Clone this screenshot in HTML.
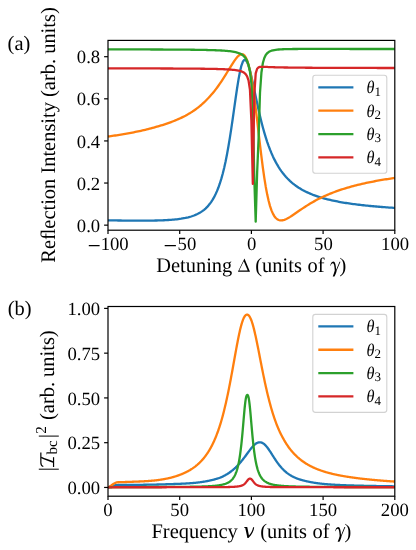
<!DOCTYPE html><html><head><meta charset="utf-8"><style>html,body{margin:0;padding:0;background:#fff}text{font-family:"Liberation Serif",serif;text-rendering:geometricPrecision}body{width:416px;height:550px;position:relative;overflow:hidden;font-family:"Liberation Serif",serif}</style></head><body><svg width="416" height="550" viewBox="0 0 416 550" style="position:absolute;left:0;top:0;will-change:transform">
<defs><clipPath id="ca"><rect x="108.00" y="40.40" width="286.80" height="189.80"/></clipPath><clipPath id="cb"><rect x="108.00" y="306.50" width="286.80" height="189.70"/></clipPath></defs>
<rect width="416" height="550" fill="#fff"/>
<g clip-path="url(#ca)" fill="none" stroke-width="2.30" stroke-linejoin="round">
<path d="M108.00,220.37 L109.43,220.39 L110.87,220.41 L112.30,220.42 L113.74,220.44 L115.17,220.46 L116.60,220.47 L118.04,220.49 L119.47,220.51 L120.91,220.52 L122.34,220.54 L123.77,220.55 L125.21,220.56 L126.64,220.58 L128.08,220.59 L129.51,220.60 L130.94,220.61 L132.38,220.62 L133.81,220.63 L135.25,220.63 L136.68,220.64 L138.11,220.64 L139.55,220.64 L140.98,220.64 L142.42,220.64 L143.85,220.64 L145.28,220.63 L146.72,220.63 L148.15,220.62 L149.59,220.60 L151.02,220.59 L152.45,220.57 L153.89,220.54 L155.32,220.52 L156.76,220.48 L158.19,220.45 L159.62,220.41 L161.06,220.36 L162.49,220.31 L163.93,220.25 L165.36,220.18 L166.79,220.11 L168.23,220.02 L169.66,219.93 L171.10,219.83 L172.53,219.72 L173.96,219.59 L175.40,219.45 L176.83,219.29 L178.27,219.12 L179.70,218.93 L181.13,218.73 L182.57,218.49 L184.00,218.24 L185.44,217.96 L186.87,217.64 L188.30,217.30 L189.74,216.92 L191.17,216.49 L192.61,216.02 L194.04,215.50 L195.47,214.92 L196.91,214.28 L198.34,213.57 L199.78,212.77 L201.21,211.88 L202.64,210.89 L204.08,209.79 L205.51,208.55 L206.95,207.16 L208.38,205.60 L209.81,203.85 L211.25,201.88 L212.68,199.66 L214.12,197.16 L215.55,194.34 L216.98,191.15 L218.42,187.55 L219.85,183.49 L221.29,178.90 L222.72,173.74 L224.15,167.95 L225.59,161.47 L227.02,154.26 L228.46,146.32 L229.89,137.66 L231.32,128.35 L232.76,118.53 L234.19,108.40 L235.63,98.26 L237.06,88.51 L238.49,79.56 L239.93,71.88 L241.36,65.85 L242.80,61.79 L244.23,59.83 L245.66,59.97 L247.10,62.01 L248.53,65.68 L249.97,70.63 L251.40,76.51 L252.83,82.97 L254.27,89.73 L255.70,96.57 L257.14,103.31 L258.57,109.83 L260.00,116.05 L261.44,121.93 L262.87,127.44 L264.31,132.58 L265.74,137.35 L267.17,141.78 L268.61,145.87 L270.04,149.66 L271.48,153.16 L272.91,156.39 L274.34,159.38 L275.78,162.15 L277.21,164.71 L278.65,167.09 L280.08,169.30 L281.51,171.35 L282.95,173.26 L284.38,175.04 L285.82,176.70 L287.25,178.26 L288.68,179.71 L290.12,181.07 L291.55,182.35 L292.99,183.55 L294.42,184.68 L295.85,185.74 L297.29,186.74 L298.72,187.69 L300.16,188.58 L301.59,189.43 L303.02,190.23 L304.46,190.99 L305.89,191.71 L307.33,192.40 L308.76,193.05 L310.19,193.67 L311.63,194.26 L313.06,194.83 L314.50,195.36 L315.93,195.88 L317.36,196.37 L318.80,196.84 L320.23,197.29 L321.67,197.72 L323.10,198.14 L324.53,198.53 L325.97,198.91 L327.40,199.28 L328.84,199.63 L330.27,199.97 L331.70,200.30 L333.14,200.61 L334.57,200.91 L336.01,201.21 L337.44,201.49 L338.87,201.76 L340.31,202.02 L341.74,202.28 L343.18,202.52 L344.61,202.76 L346.04,202.99 L347.48,203.21 L348.91,203.43 L350.35,203.64 L351.78,203.84 L353.21,204.03 L354.65,204.22 L356.08,204.41 L357.52,204.59 L358.95,204.76 L360.38,204.93 L361.82,205.10 L363.25,205.26 L364.69,205.41 L366.12,205.56 L367.55,205.71 L368.99,205.85 L370.42,205.99 L371.86,206.13 L373.29,206.26 L374.72,206.39 L376.16,206.52 L377.59,206.64 L379.03,206.76 L380.46,206.88 L381.89,206.99 L383.33,207.10 L384.76,207.21 L386.20,207.32 L387.63,207.42 L389.06,207.53 L390.50,207.62 L391.93,207.72 L393.37,207.82 L394.80,207.91" stroke="#1f77b4"/>
<path d="M108.00,136.51 L109.43,136.31 L110.87,136.11 L112.30,135.91 L113.74,135.70 L115.17,135.49 L116.60,135.27 L118.04,135.05 L119.47,134.82 L120.91,134.59 L122.34,134.35 L123.77,134.11 L125.21,133.87 L126.64,133.62 L128.08,133.36 L129.51,133.09 L130.94,132.83 L132.38,132.55 L133.81,132.27 L135.25,131.98 L136.68,131.68 L138.11,131.38 L139.55,131.07 L140.98,130.76 L142.42,130.43 L143.85,130.10 L145.28,129.76 L146.72,129.41 L148.15,129.05 L149.59,128.68 L151.02,128.30 L152.45,127.91 L153.89,127.52 L155.32,127.11 L156.76,126.70 L158.19,126.30 L159.62,125.89 L161.06,125.46 L162.49,125.03 L163.93,124.57 L165.36,124.11 L166.79,123.63 L168.23,123.13 L169.66,122.62 L171.10,122.09 L172.53,121.54 L173.96,120.98 L175.40,120.39 L176.83,119.79 L178.27,119.16 L179.70,118.51 L181.13,117.84 L182.57,117.15 L184.00,116.43 L185.44,115.69 L186.87,114.91 L188.30,114.11 L189.74,113.26 L191.17,112.35 L192.61,111.42 L194.04,110.44 L195.47,109.44 L196.91,108.39 L198.34,107.30 L199.78,106.17 L201.21,104.99 L202.64,103.70 L204.08,102.36 L205.51,100.97 L206.95,99.53 L208.38,98.04 L209.81,96.48 L211.25,94.86 L212.68,93.19 L214.12,91.44 L215.55,89.60 L216.98,87.69 L218.42,85.71 L219.85,83.66 L221.29,81.55 L222.72,79.37 L224.15,77.13 L225.59,74.84 L227.02,72.51 L228.46,70.19 L229.89,67.87 L231.32,65.55 L232.76,63.29 L234.19,61.12 L235.63,59.09 L237.06,57.28 L238.49,55.78 L239.93,54.72 L241.36,54.18 L242.80,54.31 L244.23,55.26 L245.66,57.22 L247.10,60.33 L248.53,64.77 L249.97,70.65 L251.40,78.01 L252.83,86.84 L254.27,96.99 L255.70,108.23 L257.14,120.22 L258.57,132.57 L260.00,144.87 L261.44,156.71 L262.87,167.77 L264.31,177.82 L265.74,186.69 L267.17,194.35 L268.61,200.79 L270.04,206.08 L271.48,210.33 L272.91,213.66 L274.34,216.17 L275.78,218.00 L277.21,219.25 L278.65,220.01 L280.08,220.39 L281.51,220.44 L282.95,220.24 L284.38,219.82 L285.82,219.25 L287.25,218.55 L288.68,217.76 L290.12,216.89 L291.55,215.97 L292.99,215.02 L294.42,214.04 L295.85,213.05 L297.29,212.05 L298.72,211.06 L300.16,210.07 L301.59,209.09 L303.02,208.13 L304.46,207.18 L305.89,206.26 L307.33,205.35 L308.76,204.46 L310.19,203.60 L311.63,202.75 L313.06,201.93 L314.50,201.13 L315.93,200.35 L317.36,199.59 L318.80,198.85 L320.23,198.13 L321.67,197.43 L323.10,196.76 L324.53,196.10 L325.97,195.45 L327.40,194.83 L328.84,194.22 L330.27,193.64 L331.70,193.06 L333.14,192.50 L334.57,191.96 L336.01,191.43 L337.44,190.92 L338.87,190.42 L340.31,189.93 L341.74,189.46 L343.18,189.00 L344.61,188.55 L346.04,188.11 L347.48,187.68 L348.91,187.27 L350.35,186.86 L351.78,186.46 L353.21,186.08 L354.65,185.70 L356.08,185.33 L357.52,184.97 L358.95,184.62 L360.38,184.28 L361.82,183.95 L363.25,183.62 L364.69,183.30 L366.12,182.99 L367.55,182.68 L368.99,182.38 L370.42,182.09 L371.86,181.81 L373.29,181.53 L374.72,181.25 L376.16,180.98 L377.59,180.72 L379.03,180.47 L380.46,180.21 L381.89,179.97 L383.33,179.73 L384.76,179.49 L386.20,179.26 L387.63,179.03 L389.06,178.81 L390.50,178.59 L391.93,178.37 L393.37,178.16 L394.80,177.96" stroke="#ff7f0e"/>
<path d="M108.00,49.37 L109.43,49.37 L110.87,49.38 L112.30,49.38 L113.74,49.38 L115.17,49.38 L116.60,49.39 L118.04,49.39 L119.47,49.39 L120.91,49.39 L122.34,49.40 L123.77,49.40 L125.21,49.40 L126.64,49.41 L128.08,49.41 L129.51,49.41 L130.94,49.42 L132.38,49.42 L133.81,49.42 L135.25,49.43 L136.68,49.43 L138.11,49.44 L139.55,49.44 L140.98,49.44 L142.42,49.45 L143.85,49.45 L145.28,49.46 L146.72,49.46 L148.15,49.47 L149.59,49.47 L151.02,49.48 L152.45,49.48 L153.89,49.49 L155.32,49.49 L156.76,49.50 L158.19,49.50 L159.62,49.51 L161.06,49.52 L162.49,49.52 L163.93,49.53 L165.36,49.54 L166.79,49.54 L168.23,49.55 L169.66,49.56 L171.10,49.57 L172.53,49.58 L173.96,49.59 L175.40,49.60 L176.83,49.61 L178.27,49.62 L179.70,49.63 L181.13,49.64 L182.57,49.65 L184.00,49.66 L185.44,49.68 L186.87,49.69 L188.30,49.71 L189.74,49.72 L191.17,49.74 L192.61,49.75 L194.04,49.77 L195.47,49.79 L196.91,49.81 L198.34,49.83 L199.78,49.86 L201.21,49.88 L202.64,49.91 L204.08,49.93 L205.51,49.96 L206.95,50.00 L208.38,50.03 L209.81,50.07 L211.25,50.11 L212.68,50.15 L214.12,50.20 L215.55,50.25 L216.98,50.31 L218.42,50.37 L219.85,50.44 L221.29,50.52 L222.72,50.60 L224.15,50.70 L225.59,50.81 L227.02,50.93 L228.46,51.07 L229.89,51.23 L231.32,51.41 L232.76,51.63 L234.19,51.89 L235.63,52.19 L237.06,52.56 L238.49,53.02 L239.93,53.59 L241.36,54.31 L242.80,55.26 L244.23,56.54 L245.66,58.32 L247.10,60.92 L248.53,64.93 L249.97,71.59 L251.40,83.71 L252.83,108.32 L254.27,177.14 L255.70,221.67 L257.14,172.51 L258.57,139.15 L260.00,92.71 L261.44,72.49 L262.87,62.99 L264.31,57.99 L265.74,55.05 L267.17,53.25 L268.61,52.08 L270.04,51.29 L271.48,50.73 L272.91,50.33 L274.34,50.03 L275.78,49.81 L277.21,49.63 L278.65,49.50 L280.08,49.39 L281.51,49.31 L282.95,49.24 L284.38,49.18 L285.82,49.14 L287.25,49.10 L288.68,49.07 L290.12,49.05 L291.55,49.03 L292.99,49.01 L294.42,49.00 L295.85,48.99 L297.29,48.98 L298.72,48.97 L300.16,48.96 L301.59,48.96 L303.02,48.95 L304.46,48.95 L305.89,48.95 L307.33,48.95 L308.76,48.94 L310.19,48.94 L311.63,48.94 L313.06,48.94 L314.50,48.94 L315.93,48.94 L317.36,48.94 L318.80,48.94 L320.23,48.94 L321.67,48.94 L323.10,48.95 L324.53,48.95 L325.97,48.95 L327.40,48.95 L328.84,48.95 L330.27,48.95 L331.70,48.95 L333.14,48.96 L334.57,48.96 L336.01,48.96 L337.44,48.96 L338.87,48.96 L340.31,48.96 L341.74,48.97 L343.18,48.97 L344.61,48.97 L346.04,48.97 L347.48,48.97 L348.91,48.97 L350.35,48.98 L351.78,48.98 L353.21,48.98 L354.65,48.98 L356.08,48.98 L357.52,48.98 L358.95,48.98 L360.38,48.99 L361.82,48.99 L363.25,48.99 L364.69,48.99 L366.12,48.99 L367.55,48.99 L368.99,48.99 L370.42,49.00 L371.86,49.00 L373.29,49.00 L374.72,49.00 L376.16,49.00 L377.59,49.00 L379.03,49.00 L380.46,49.01 L381.89,49.01 L383.33,49.01 L384.76,49.01 L386.20,49.01 L387.63,49.01 L389.06,49.01 L390.50,49.01 L391.93,49.02 L393.37,49.02 L394.80,49.02" stroke="#2ca02c"/>
<path d="M108.00,68.36 L109.43,68.37 L110.87,68.37 L112.30,68.37 L113.74,68.37 L115.17,68.37 L116.60,68.38 L118.04,68.38 L119.47,68.38 L120.91,68.38 L122.34,68.39 L123.77,68.39 L125.21,68.39 L126.64,68.39 L128.08,68.40 L129.51,68.40 L130.94,68.40 L132.38,68.40 L133.81,68.41 L135.25,68.41 L136.68,68.41 L138.11,68.41 L139.55,68.42 L140.98,68.42 L142.42,68.42 L143.85,68.43 L145.28,68.43 L146.72,68.43 L148.15,68.44 L149.59,68.44 L151.02,68.45 L152.45,68.45 L153.89,68.45 L155.32,68.46 L156.76,68.46 L158.19,68.47 L159.62,68.47 L161.06,68.48 L162.49,68.48 L163.93,68.49 L165.36,68.49 L166.79,68.50 L168.23,68.50 L169.66,68.51 L171.10,68.52 L172.53,68.52 L173.96,68.53 L175.40,68.54 L176.83,68.54 L178.27,68.55 L179.70,68.56 L181.13,68.57 L182.57,68.57 L184.00,68.58 L185.44,68.59 L186.87,68.60 L188.30,68.61 L189.74,68.62 L191.17,68.63 L192.61,68.65 L194.04,68.66 L195.47,68.67 L196.91,68.68 L198.34,68.70 L199.78,68.71 L201.21,68.73 L202.64,68.75 L204.08,68.77 L205.51,68.79 L206.95,68.81 L208.38,68.83 L209.81,68.85 L211.25,68.88 L212.68,68.91 L214.12,68.94 L215.55,68.97 L216.98,69.00 L218.42,69.04 L219.85,69.08 L221.29,69.13 L222.72,69.18 L224.15,69.24 L225.59,69.30 L227.02,69.38 L228.46,69.46 L229.89,69.55 L231.32,69.66 L232.76,69.79 L234.19,69.94 L235.63,70.11 L237.06,70.33 L238.49,70.60 L239.93,70.94 L241.36,71.38 L242.80,71.99 L244.23,72.85 L245.66,74.15 L247.10,76.31 L248.53,80.38 L249.97,89.90 L251.40,121.01 L252.83,183.94 L254.27,95.17 L255.70,73.35 L257.14,68.75 L258.57,67.42 L260.00,66.97 L261.44,66.84 L262.87,66.82 L264.31,66.86 L265.74,66.91 L267.17,66.97 L268.61,67.03 L270.04,67.08 L271.48,67.14 L272.91,67.19 L274.34,67.23 L275.78,67.28 L277.21,67.32 L278.65,67.35 L280.08,67.39 L281.51,67.42 L282.95,67.45 L284.38,67.48 L285.82,67.50 L287.25,67.52 L288.68,67.55 L290.12,67.57 L291.55,67.59 L292.99,67.60 L294.42,67.62 L295.85,67.64 L297.29,67.65 L298.72,67.67 L300.16,67.68 L301.59,67.69 L303.02,67.71 L304.46,67.72 L305.89,67.73 L307.33,67.74 L308.76,67.75 L310.19,67.76 L311.63,67.77 L313.06,67.78 L314.50,67.79 L315.93,67.79 L317.36,67.80 L318.80,67.81 L320.23,67.82 L321.67,67.82 L323.10,67.83 L324.53,67.84 L325.97,67.84 L327.40,67.85 L328.84,67.86 L330.27,67.86 L331.70,67.87 L333.14,67.87 L334.57,67.88 L336.01,67.88 L337.44,67.89 L338.87,67.89 L340.31,67.90 L341.74,67.90 L343.18,67.90 L344.61,67.91 L346.04,67.91 L347.48,67.92 L348.91,67.92 L350.35,67.92 L351.78,67.93 L353.21,67.93 L354.65,67.93 L356.08,67.94 L357.52,67.94 L358.95,67.94 L360.38,67.95 L361.82,67.95 L363.25,67.95 L364.69,67.95 L366.12,67.96 L367.55,67.96 L368.99,67.96 L370.42,67.96 L371.86,67.97 L373.29,67.97 L374.72,67.97 L376.16,67.97 L377.59,67.98 L379.03,67.98 L380.46,67.98 L381.89,67.98 L383.33,67.98 L384.76,67.99 L386.20,67.99 L387.63,67.99 L389.06,67.99 L390.50,67.99 L391.93,68.00 L393.37,68.00 L394.80,68.00" stroke="#d62728"/>
</g>
<g clip-path="url(#cb)" fill="none" stroke-width="2.30" stroke-linejoin="round">
<path d="M108.00,487.45 L108.36,487.33 L108.72,487.20 L109.08,487.08 L109.43,486.95 L109.79,486.83 L110.15,486.70 L110.51,486.58 L110.87,486.45 L111.23,486.33 L111.58,486.22 L111.94,486.10 L112.30,485.99 L112.66,485.87 L113.02,485.75 L113.38,485.63 L113.74,485.51 L114.09,485.45 L114.45,485.40 L114.81,485.34 L115.17,485.29 L115.53,485.23 L115.89,485.18 L116.25,485.12 L116.60,485.07 L116.96,485.05 L117.32,485.04 L117.68,485.03 L118.04,485.02 L118.40,485.01 L118.75,484.99 L119.11,484.98 L119.47,484.97 L119.83,484.97 L120.19,484.97 L120.55,484.97 L120.91,484.96 L121.26,484.96 L121.62,484.96 L121.98,484.96 L122.34,484.96 L122.70,484.96 L123.06,484.95 L123.42,484.95 L123.77,484.95 L124.13,484.95 L124.49,484.95 L124.85,484.95 L125.21,484.94 L125.57,484.94 L125.92,484.94 L126.28,484.94 L126.64,484.94 L127.00,484.93 L127.36,484.93 L127.72,484.93 L128.08,484.93 L128.43,484.92 L128.79,484.92 L129.15,484.92 L129.51,484.92 L129.87,484.91 L130.23,484.91 L130.59,484.91 L130.94,484.91 L131.30,484.90 L131.66,484.90 L132.02,484.90 L132.38,484.89 L132.74,484.89 L133.09,484.89 L133.45,484.89 L133.81,484.88 L134.17,484.88 L134.53,484.88 L134.89,484.87 L135.25,484.87 L135.60,484.87 L135.96,484.86 L136.32,484.86 L136.68,484.85 L137.04,484.85 L137.40,484.85 L137.76,484.84 L138.11,484.84 L138.47,484.84 L138.83,484.83 L139.19,484.83 L139.55,484.82 L139.91,484.82 L140.26,484.81 L140.62,484.81 L140.98,484.80 L141.34,484.80 L141.70,484.80 L142.06,484.79 L142.42,484.79 L142.77,484.78 L143.13,484.78 L143.49,484.77 L143.85,484.77 L144.21,484.76 L144.57,484.76 L144.93,484.75 L145.28,484.74 L145.64,484.74 L146.00,484.73 L146.36,484.73 L146.72,484.72 L147.08,484.72 L147.44,484.71 L147.79,484.70 L148.15,484.70 L148.51,484.69 L148.87,484.69 L149.23,484.68 L149.59,484.67 L149.94,484.67 L150.30,484.66 L150.66,484.65 L151.02,484.65 L151.38,484.64 L151.74,484.63 L152.10,484.63 L152.45,484.62 L152.81,484.61 L153.17,484.60 L153.53,484.60 L153.89,484.59 L154.25,484.58 L154.60,484.57 L154.96,484.57 L155.32,484.56 L155.68,484.55 L156.04,484.54 L156.40,484.53 L156.76,484.52 L157.11,484.52 L157.47,484.51 L157.83,484.50 L158.19,484.49 L158.55,484.48 L158.91,484.47 L159.27,484.46 L159.62,484.45 L159.98,484.44 L160.34,484.43 L160.70,484.42 L161.06,484.41 L161.42,484.40 L161.78,484.39 L162.13,484.38 L162.49,484.37 L162.85,484.36 L163.21,484.35 L163.57,484.34 L163.93,484.33 L164.28,484.32 L164.64,484.30 L165.00,484.29 L165.36,484.28 L165.72,484.27 L166.08,484.26 L166.44,484.24 L166.79,484.23 L167.15,484.22 L167.51,484.21 L167.87,484.19 L168.23,484.18 L168.59,484.17 L168.94,484.15 L169.30,484.14 L169.66,484.12 L170.02,484.11 L170.38,484.10 L170.74,484.09 L171.10,484.09 L171.45,484.08 L171.81,484.07 L172.17,484.06 L172.53,484.05 L172.89,484.04 L173.25,484.03 L173.61,484.02 L173.96,484.01 L174.32,484.00 L174.68,483.99 L175.04,483.98 L175.40,483.97 L175.76,483.95 L176.12,483.94 L176.47,483.93 L176.83,483.92 L177.19,483.91 L177.55,483.89 L177.91,483.88 L178.27,483.87 L178.62,483.85 L178.98,483.84 L179.34,483.82 L179.70,483.81 L180.06,483.79 L180.42,483.78 L180.78,483.76 L181.13,483.75 L181.49,483.73 L181.85,483.72 L182.21,483.70 L182.57,483.68 L182.93,483.66 L183.28,483.65 L183.64,483.63 L184.00,483.61 L184.36,483.59 L184.72,483.57 L185.08,483.55 L185.44,483.53 L185.79,483.51 L186.15,483.49 L186.51,483.47 L186.87,483.45 L187.23,483.43 L187.59,483.40 L187.95,483.38 L188.30,483.36 L188.66,483.34 L189.02,483.31 L189.38,483.29 L189.74,483.26 L190.10,483.24 L190.45,483.21 L190.81,483.18 L191.17,483.16 L191.53,483.13 L191.89,483.10 L192.25,483.07 L192.61,483.04 L192.96,483.01 L193.32,482.98 L193.68,482.95 L194.04,482.92 L194.40,482.89 L194.76,482.86 L195.12,482.82 L195.47,482.79 L195.83,482.76 L196.19,482.72 L196.55,482.68 L196.91,482.63 L197.27,482.59 L197.62,482.55 L197.98,482.50 L198.34,482.46 L198.70,482.41 L199.06,482.37 L199.42,482.32 L199.78,482.27 L200.13,482.23 L200.49,482.18 L200.85,482.13 L201.21,482.08 L201.57,482.02 L201.93,481.97 L202.29,481.92 L202.64,481.86 L203.00,481.81 L203.36,481.75 L203.72,481.69 L204.08,481.64 L204.44,481.58 L204.80,481.52 L205.15,481.46 L205.51,481.39 L205.87,481.33 L206.23,481.27 L206.59,481.20 L206.95,481.13 L207.30,481.07 L207.66,481.00 L208.02,480.93 L208.38,480.85 L208.74,480.78 L209.10,480.71 L209.46,480.63 L209.81,480.56 L210.17,480.48 L210.53,480.40 L210.89,480.32 L211.25,480.23 L211.61,480.15 L211.96,480.06 L212.32,479.98 L212.68,479.89 L213.04,479.80 L213.40,479.71 L213.76,479.61 L214.12,479.52 L214.47,479.42 L214.83,479.32 L215.19,479.22 L215.55,479.12 L215.91,479.01 L216.27,478.90 L216.63,478.80 L216.98,478.69 L217.34,478.57 L217.70,478.46 L218.06,478.34 L218.42,478.22 L218.78,478.10 L219.13,477.97 L219.49,477.85 L219.85,477.72 L220.21,477.59 L220.57,477.45 L220.93,477.31 L221.29,477.17 L221.64,477.03 L222.00,476.89 L222.36,476.71 L222.72,476.53 L223.08,476.35 L223.44,476.17 L223.80,475.98 L224.15,475.79 L224.51,475.60 L224.87,475.40 L225.23,475.20 L225.59,475.00 L225.95,474.79 L226.31,474.58 L226.66,474.37 L227.02,474.15 L227.38,473.93 L227.74,473.70 L228.10,473.47 L228.46,473.23 L228.81,473.00 L229.17,472.75 L229.53,472.51 L229.89,472.25 L230.25,472.00 L230.61,471.74 L230.97,471.47 L231.32,471.20 L231.68,470.92 L232.04,470.64 L232.40,470.36 L232.76,470.07 L233.12,469.77 L233.47,469.47 L233.83,469.16 L234.19,468.85 L234.55,468.53 L234.91,468.20 L235.27,467.87 L235.63,467.53 L235.98,467.18 L236.34,466.83 L236.70,466.47 L237.06,466.11 L237.42,465.74 L237.78,465.36 L238.14,464.98 L238.49,464.59 L238.85,464.20 L239.21,463.80 L239.57,463.40 L239.93,462.99 L240.29,462.57 L240.64,462.15 L241.00,461.72 L241.36,461.29 L241.72,460.85 L242.08,460.40 L242.44,459.95 L242.80,459.50 L243.15,459.04 L243.51,458.58 L243.87,458.11 L244.23,457.64 L244.59,457.17 L244.95,456.69 L245.31,456.21 L245.66,455.73 L246.02,455.25 L246.38,454.76 L246.74,454.28 L247.10,453.79 L247.46,453.29 L247.81,452.79 L248.17,452.30 L248.53,451.81 L248.89,451.32 L249.25,450.83 L249.61,450.35 L249.97,449.88 L250.32,449.41 L250.68,448.95 L251.04,448.49 L251.40,448.05 L251.76,447.62 L252.12,447.20 L252.48,446.79 L252.83,446.39 L253.19,446.01 L253.55,445.64 L253.91,445.29 L254.27,444.95 L254.63,444.63 L254.98,444.33 L255.34,444.05 L255.70,443.79 L256.06,443.54 L256.42,443.32 L256.78,443.12 L257.14,442.94 L257.49,442.78 L257.85,442.64 L258.21,442.53 L258.57,442.43 L258.93,442.36 L259.29,442.30 L259.65,442.28 L260.00,442.29 L260.36,442.33 L260.72,442.38 L261.08,442.46 L261.44,442.56 L261.80,442.69 L262.15,442.83 L262.51,443.00 L262.87,443.20 L263.23,443.42 L263.59,443.66 L263.95,443.93 L264.31,444.22 L264.66,444.54 L265.02,444.87 L265.38,445.23 L265.74,445.61 L266.10,446.00 L266.46,446.42 L266.82,446.86 L267.17,447.31 L267.53,447.77 L267.89,448.25 L268.25,448.75 L268.61,449.26 L268.97,449.77 L269.32,450.30 L269.68,450.84 L270.04,451.38 L270.40,451.93 L270.76,452.49 L271.12,453.05 L271.48,453.61 L271.83,454.18 L272.19,454.75 L272.55,455.31 L272.91,455.88 L273.27,456.44 L273.63,457.01 L273.99,457.57 L274.34,458.12 L274.70,458.67 L275.06,459.21 L275.42,459.75 L275.78,460.29 L276.14,460.81 L276.50,461.33 L276.85,461.84 L277.21,462.35 L277.57,462.85 L277.93,463.34 L278.29,463.82 L278.65,464.29 L279.00,464.76 L279.36,465.21 L279.72,465.66 L280.08,466.10 L280.44,466.53 L280.80,466.95 L281.16,467.37 L281.51,467.77 L281.87,468.17 L282.23,468.55 L282.59,468.93 L282.95,469.30 L283.31,469.66 L283.66,470.02 L284.02,470.36 L284.38,470.70 L284.74,471.03 L285.10,471.35 L285.46,471.66 L285.82,471.97 L286.17,472.27 L286.53,472.56 L286.89,472.85 L287.25,473.12 L287.61,473.39 L287.97,473.66 L288.33,473.91 L288.68,474.17 L289.04,474.41 L289.40,474.65 L289.76,474.88 L290.12,475.11 L290.48,475.33 L290.83,475.54 L291.19,475.75 L291.55,475.96 L291.91,476.15 L292.27,476.35 L292.63,476.54 L292.99,476.72 L293.34,476.90 L293.70,477.07 L294.06,477.24 L294.42,477.41 L294.78,477.57 L295.14,477.73 L295.50,477.88 L295.85,478.03 L296.21,478.18 L296.57,478.32 L296.93,478.46 L297.29,478.59 L297.65,478.73 L298.00,478.85 L298.36,478.98 L298.72,479.10 L299.08,479.22 L299.44,479.34 L299.80,479.45 L300.16,479.56 L300.51,479.67 L300.87,479.78 L301.23,479.88 L301.59,479.98 L301.95,480.08 L302.31,480.17 L302.67,480.27 L303.02,480.36 L303.38,480.45 L303.74,480.53 L304.10,480.62 L304.46,480.72 L304.82,480.81 L305.17,480.91 L305.53,481.00 L305.89,481.08 L306.25,481.17 L306.61,481.26 L306.97,481.34 L307.33,481.42 L307.68,481.50 L308.04,481.58 L308.40,481.66 L308.76,481.73 L309.12,481.81 L309.48,481.88 L309.84,481.95 L310.19,482.02 L310.55,482.09 L310.91,482.16 L311.27,482.23 L311.63,482.29 L311.99,482.36 L312.35,482.42 L312.70,482.48 L313.06,482.54 L313.42,482.60 L313.78,482.66 L314.14,482.72 L314.50,482.77 L314.85,482.83 L315.21,482.88 L315.57,482.94 L315.93,482.99 L316.29,483.04 L316.65,483.09 L317.01,483.14 L317.36,483.19 L317.72,483.24 L318.08,483.29 L318.44,483.34 L318.80,483.38 L319.16,483.43 L319.51,483.47 L319.87,483.52 L320.23,483.56 L320.59,483.60 L320.95,483.65 L321.31,483.69 L321.67,483.73 L322.02,483.77 L322.38,483.81 L322.74,483.85 L323.10,483.89 L323.46,483.92 L323.82,483.96 L324.18,484.00 L324.53,484.04 L324.89,484.07 L325.25,484.10 L325.61,484.13 L325.97,484.16 L326.33,484.19 L326.69,484.22 L327.04,484.25 L327.40,484.27 L327.76,484.30 L328.12,484.33 L328.48,484.35 L328.84,484.38 L329.19,484.40 L329.55,484.43 L329.91,484.45 L330.27,484.48 L330.63,484.50 L330.99,484.52 L331.35,484.55 L331.70,484.57 L332.06,484.59 L332.42,484.61 L332.78,484.64 L333.14,484.66 L333.50,484.68 L333.86,484.70 L334.21,484.72 L334.57,484.74 L334.93,484.76 L335.29,484.78 L335.65,484.80 L336.01,484.82 L336.36,484.84 L336.72,484.86 L337.08,484.87 L337.44,484.89 L337.80,484.91 L338.16,484.93 L338.52,484.94 L338.87,484.96 L339.23,484.98 L339.59,485.00 L339.95,485.01 L340.31,485.03 L340.67,485.04 L341.02,485.06 L341.38,485.08 L341.74,485.09 L342.10,485.11 L342.46,485.12 L342.82,485.14 L343.18,485.15 L343.53,485.17 L343.89,485.18 L344.25,485.19 L344.61,485.21 L344.97,485.22 L345.33,485.24 L345.69,485.25 L346.04,485.26 L346.40,485.28 L346.76,485.29 L347.12,485.30 L347.48,485.32 L347.84,485.33 L348.19,485.34 L348.55,485.35 L348.91,485.37 L349.27,485.38 L349.63,485.39 L349.99,485.40 L350.35,485.41 L350.70,485.42 L351.06,485.44 L351.42,485.45 L351.78,485.46 L352.14,485.47 L352.50,485.48 L352.86,485.49 L353.21,485.50 L353.57,485.51 L353.93,485.52 L354.29,485.53 L354.65,485.54 L355.01,485.55 L355.37,485.56 L355.72,485.57 L356.08,485.58 L356.44,485.59 L356.80,485.60 L357.16,485.61 L357.52,485.62 L357.87,485.63 L358.23,485.64 L358.59,485.65 L358.95,485.66 L359.31,485.67 L359.67,485.68 L360.03,485.69 L360.38,485.70 L360.74,485.70 L361.10,485.71 L361.46,485.72 L361.82,485.73 L362.18,485.74 L362.53,485.75 L362.89,485.76 L363.25,485.76 L363.61,485.77 L363.97,485.78 L364.33,485.79 L364.69,485.80 L365.04,485.80 L365.40,485.81 L365.76,485.82 L366.12,485.83 L366.48,485.84 L366.84,485.84 L367.20,485.85 L367.55,485.86 L367.91,485.87 L368.27,485.87 L368.63,485.88 L368.99,485.89 L369.35,485.90 L369.70,485.90 L370.06,485.91 L370.42,485.92 L370.78,485.92 L371.14,485.93 L371.50,485.94 L371.86,485.94 L372.21,485.95 L372.57,485.96 L372.93,485.96 L373.29,485.97 L373.65,485.98 L374.01,485.98 L374.37,485.99 L374.72,486.00 L375.08,486.00 L375.44,486.01 L375.80,486.02 L376.16,486.02 L376.52,486.03 L376.88,486.04 L377.23,486.04 L377.59,486.05 L377.95,486.05 L378.31,486.06 L378.67,486.07 L379.03,486.07 L379.38,486.08 L379.74,486.08 L380.10,486.09 L380.46,486.10 L380.82,486.10 L381.18,486.11 L381.54,486.11 L381.89,486.12 L382.25,486.13 L382.61,486.13 L382.97,486.14 L383.33,486.14 L383.69,486.15 L384.05,486.15 L384.40,486.16 L384.76,486.16 L385.12,486.17 L385.48,486.18 L385.84,486.18 L386.20,486.19 L386.55,486.19 L386.91,486.20 L387.27,486.20 L387.63,486.21 L387.99,486.21 L388.35,486.22 L388.71,486.22 L389.06,486.23 L389.42,486.23 L389.78,486.24 L390.14,486.24 L390.50,486.25 L390.86,486.25 L391.21,486.26 L391.57,486.26 L391.93,486.27 L392.29,486.27 L392.65,486.28 L393.01,486.28 L393.37,486.29 L393.72,486.29 L394.08,486.30 L394.44,486.30 L394.80,486.31" stroke="#1f77b4"/>
<path d="M108.00,487.45 L108.36,487.25 L108.72,487.04 L109.08,486.84 L109.43,486.63 L109.79,486.43 L110.15,486.22 L110.51,486.00 L110.87,485.79 L111.23,485.55 L111.58,485.29 L111.94,485.03 L112.30,484.77 L112.66,484.50 L113.02,484.23 L113.38,483.96 L113.74,483.69 L114.09,483.51 L114.45,483.35 L114.81,483.18 L115.17,483.01 L115.53,482.84 L115.89,482.67 L116.25,482.50 L116.60,482.36 L116.96,482.32 L117.32,482.30 L117.68,482.27 L118.04,482.25 L118.40,482.23 L118.75,482.21 L119.11,482.18 L119.47,482.16 L119.83,482.15 L120.19,482.14 L120.55,482.13 L120.91,482.13 L121.26,482.12 L121.62,482.11 L121.98,482.10 L122.34,482.09 L122.70,482.09 L123.06,482.08 L123.42,482.07 L123.77,482.06 L124.13,482.05 L124.49,482.04 L124.85,482.03 L125.21,482.02 L125.57,482.01 L125.92,482.00 L126.28,481.99 L126.64,481.98 L127.00,481.97 L127.36,481.96 L127.72,481.94 L128.08,481.93 L128.43,481.92 L128.79,481.91 L129.15,481.90 L129.51,481.88 L129.87,481.87 L130.23,481.86 L130.59,481.84 L130.94,481.83 L131.30,481.82 L131.66,481.80 L132.02,481.79 L132.38,481.77 L132.74,481.76 L133.09,481.74 L133.45,481.73 L133.81,481.71 L134.17,481.70 L134.53,481.68 L134.89,481.66 L135.25,481.65 L135.60,481.64 L135.96,481.63 L136.32,481.62 L136.68,481.60 L137.04,481.59 L137.40,481.58 L137.76,481.56 L138.11,481.55 L138.47,481.54 L138.83,481.52 L139.19,481.51 L139.55,481.49 L139.91,481.48 L140.26,481.46 L140.62,481.44 L140.98,481.43 L141.34,481.41 L141.70,481.39 L142.06,481.38 L142.42,481.36 L142.77,481.34 L143.13,481.32 L143.49,481.30 L143.85,481.28 L144.21,481.26 L144.57,481.24 L144.93,481.22 L145.28,481.20 L145.64,481.18 L146.00,481.16 L146.36,481.13 L146.72,481.11 L147.08,481.09 L147.44,481.06 L147.79,481.04 L148.15,481.02 L148.51,480.99 L148.87,480.96 L149.23,480.94 L149.59,480.91 L149.94,480.88 L150.30,480.86 L150.66,480.83 L151.02,480.80 L151.38,480.77 L151.74,480.74 L152.10,480.71 L152.45,480.68 L152.81,480.65 L153.17,480.62 L153.53,480.58 L153.89,480.55 L154.25,480.52 L154.60,480.48 L154.96,480.45 L155.32,480.41 L155.68,480.37 L156.04,480.34 L156.40,480.29 L156.76,480.24 L157.11,480.19 L157.47,480.14 L157.83,480.09 L158.19,480.04 L158.55,479.99 L158.91,479.94 L159.27,479.89 L159.62,479.84 L159.98,479.78 L160.34,479.73 L160.70,479.67 L161.06,479.61 L161.42,479.56 L161.78,479.50 L162.13,479.44 L162.49,479.38 L162.85,479.32 L163.21,479.26 L163.57,479.19 L163.93,479.13 L164.28,479.06 L164.64,479.00 L165.00,478.93 L165.36,478.87 L165.72,478.80 L166.08,478.73 L166.44,478.66 L166.79,478.59 L167.15,478.51 L167.51,478.44 L167.87,478.36 L168.23,478.29 L168.59,478.21 L168.94,478.13 L169.30,478.05 L169.66,477.97 L170.02,477.89 L170.38,477.80 L170.74,477.71 L171.10,477.61 L171.45,477.52 L171.81,477.42 L172.17,477.33 L172.53,477.23 L172.89,477.13 L173.25,477.03 L173.61,476.92 L173.96,476.82 L174.32,476.71 L174.68,476.60 L175.04,476.49 L175.40,476.38 L175.76,476.27 L176.12,476.16 L176.47,476.04 L176.83,475.92 L177.19,475.80 L177.55,475.68 L177.91,475.56 L178.27,475.43 L178.62,475.31 L178.98,475.18 L179.34,475.05 L179.70,474.91 L180.06,474.78 L180.42,474.64 L180.78,474.50 L181.13,474.36 L181.49,474.22 L181.85,474.07 L182.21,473.92 L182.57,473.77 L182.93,473.62 L183.28,473.47 L183.64,473.31 L184.00,473.15 L184.36,472.99 L184.72,472.82 L185.08,472.65 L185.44,472.48 L185.79,472.31 L186.15,472.13 L186.51,471.95 L186.87,471.77 L187.23,471.58 L187.59,471.39 L187.95,471.20 L188.30,471.00 L188.66,470.81 L189.02,470.60 L189.38,470.40 L189.74,470.19 L190.10,469.98 L190.45,469.76 L190.81,469.54 L191.17,469.31 L191.53,469.09 L191.89,468.85 L192.25,468.62 L192.61,468.38 L192.96,468.13 L193.32,467.88 L193.68,467.63 L194.04,467.37 L194.40,467.11 L194.76,466.84 L195.12,466.57 L195.47,466.29 L195.83,466.01 L196.19,465.72 L196.55,465.42 L196.91,465.12 L197.27,464.82 L197.62,464.51 L197.98,464.19 L198.34,463.87 L198.70,463.54 L199.06,463.21 L199.42,462.86 L199.78,462.52 L200.13,462.16 L200.49,461.80 L200.85,461.43 L201.21,461.06 L201.57,460.68 L201.93,460.29 L202.29,459.89 L202.64,459.49 L203.00,459.07 L203.36,458.65 L203.72,458.22 L204.08,457.78 L204.44,457.33 L204.80,456.88 L205.15,456.41 L205.51,455.93 L205.87,455.45 L206.23,454.95 L206.59,454.44 L206.95,453.93 L207.30,453.40 L207.66,452.86 L208.02,452.31 L208.38,451.75 L208.74,451.17 L209.10,450.59 L209.46,449.99 L209.81,449.38 L210.17,448.75 L210.53,448.12 L210.89,447.46 L211.25,446.80 L211.61,446.12 L211.96,445.43 L212.32,444.72 L212.68,443.99 L213.04,443.25 L213.40,442.49 L213.76,441.72 L214.12,440.93 L214.47,440.12 L214.83,439.30 L215.19,438.46 L215.55,437.60 L215.91,436.72 L216.27,435.82 L216.63,434.90 L216.98,433.96 L217.34,433.00 L217.70,432.02 L218.06,431.02 L218.42,430.00 L218.78,428.96 L219.13,427.89 L219.49,426.80 L219.85,425.69 L220.21,424.56 L220.57,423.40 L220.93,422.21 L221.29,421.00 L221.64,419.77 L222.00,418.51 L222.36,417.21 L222.72,415.87 L223.08,414.52 L223.44,413.13 L223.80,411.72 L224.15,410.28 L224.51,408.82 L224.87,407.33 L225.23,405.81 L225.59,404.27 L225.95,402.69 L226.31,401.09 L226.66,399.47 L227.02,397.81 L227.38,396.13 L227.74,394.43 L228.10,392.70 L228.46,390.94 L228.81,389.16 L229.17,387.36 L229.53,385.53 L229.89,383.68 L230.25,381.81 L230.61,379.92 L230.97,378.01 L231.32,376.08 L231.68,374.14 L232.04,372.19 L232.40,370.22 L232.76,368.24 L233.12,366.25 L233.47,364.26 L233.83,362.26 L234.19,360.26 L234.55,358.26 L234.91,356.27 L235.27,354.28 L235.63,352.30 L235.98,350.34 L236.34,348.39 L236.70,346.46 L237.06,344.55 L237.42,342.67 L237.78,340.83 L238.14,339.01 L238.49,337.24 L238.85,335.50 L239.21,333.81 L239.57,332.17 L239.93,330.59 L240.29,329.07 L240.64,327.62 L241.00,326.24 L241.36,324.92 L241.72,323.67 L242.08,322.49 L242.44,321.39 L242.80,320.37 L243.15,319.43 L243.51,318.57 L243.87,317.79 L244.23,317.10 L244.59,316.50 L244.95,315.98 L245.31,315.55 L245.66,315.20 L246.02,314.94 L246.38,314.76 L246.74,314.66 L247.10,314.64 L247.46,314.68 L247.81,314.79 L248.17,314.99 L248.53,315.27 L248.89,315.63 L249.25,316.07 L249.61,316.60 L249.97,317.21 L250.32,317.90 L250.68,318.68 L251.04,319.53 L251.40,320.46 L251.76,321.47 L252.12,322.54 L252.48,323.69 L252.83,324.90 L253.19,326.18 L253.55,327.52 L253.91,328.91 L254.27,330.36 L254.63,331.86 L254.98,333.40 L255.34,334.99 L255.70,336.62 L256.06,338.28 L256.42,339.98 L256.78,341.70 L257.14,343.45 L257.49,345.23 L257.85,347.02 L258.21,348.83 L258.57,350.65 L258.93,352.48 L259.29,354.32 L259.65,356.17 L260.00,358.02 L260.36,359.86 L260.72,361.71 L261.08,363.55 L261.44,365.38 L261.80,367.21 L262.15,369.03 L262.51,370.83 L262.87,372.62 L263.23,374.38 L263.59,376.12 L263.95,377.84 L264.31,379.54 L264.66,381.23 L265.02,382.89 L265.38,384.53 L265.74,386.15 L266.10,387.75 L266.46,389.33 L266.82,390.89 L267.17,392.42 L267.53,393.93 L267.89,395.41 L268.25,396.87 L268.61,398.31 L268.97,399.73 L269.32,401.12 L269.68,402.48 L270.04,403.82 L270.40,405.14 L270.76,406.44 L271.12,407.71 L271.48,408.96 L271.83,410.18 L272.19,411.38 L272.55,412.56 L272.91,413.72 L273.27,414.85 L273.63,415.96 L273.99,417.06 L274.34,418.12 L274.70,419.17 L275.06,420.20 L275.42,421.19 L275.78,422.17 L276.14,423.13 L276.50,424.06 L276.85,424.98 L277.21,425.88 L277.57,426.76 L277.93,427.62 L278.29,428.46 L278.65,429.29 L279.00,430.10 L279.36,430.90 L279.72,431.67 L280.08,432.43 L280.44,433.18 L280.80,433.91 L281.16,434.63 L281.51,435.33 L281.87,436.01 L282.23,436.68 L282.59,437.34 L282.95,437.99 L283.31,438.65 L283.66,439.30 L284.02,439.94 L284.38,440.57 L284.74,441.19 L285.10,441.80 L285.46,442.39 L285.82,442.97 L286.17,443.54 L286.53,444.10 L286.89,444.65 L287.25,445.19 L287.61,445.72 L287.97,446.24 L288.33,446.75 L288.68,447.25 L289.04,447.74 L289.40,448.22 L289.76,448.69 L290.12,449.16 L290.48,449.61 L290.83,450.06 L291.19,450.50 L291.55,450.93 L291.91,451.35 L292.27,451.77 L292.63,452.18 L292.99,452.58 L293.34,452.97 L293.70,453.36 L294.06,453.74 L294.42,454.11 L294.78,454.48 L295.14,454.84 L295.50,455.19 L295.85,455.54 L296.21,455.89 L296.57,456.23 L296.93,456.57 L297.29,456.90 L297.65,457.23 L298.00,457.55 L298.36,457.86 L298.72,458.17 L299.08,458.48 L299.44,458.78 L299.80,459.08 L300.16,459.37 L300.51,459.65 L300.87,459.94 L301.23,460.21 L301.59,460.49 L301.95,460.75 L302.31,461.02 L302.67,461.28 L303.02,461.54 L303.38,461.79 L303.74,462.04 L304.10,462.28 L304.46,462.52 L304.82,462.76 L305.17,462.99 L305.53,463.22 L305.89,463.45 L306.25,463.68 L306.61,463.90 L306.97,464.11 L307.33,464.33 L307.68,464.54 L308.04,464.74 L308.40,464.95 L308.76,465.15 L309.12,465.35 L309.48,465.55 L309.84,465.74 L310.19,465.93 L310.55,466.11 L310.91,466.30 L311.27,466.48 L311.63,466.66 L311.99,466.83 L312.35,467.00 L312.70,467.18 L313.06,467.34 L313.42,467.51 L313.78,467.67 L314.14,467.83 L314.50,467.99 L314.85,468.15 L315.21,468.31 L315.57,468.46 L315.93,468.61 L316.29,468.76 L316.65,468.91 L317.01,469.05 L317.36,469.20 L317.72,469.34 L318.08,469.48 L318.44,469.61 L318.80,469.75 L319.16,469.88 L319.51,470.02 L319.87,470.15 L320.23,470.28 L320.59,470.41 L320.95,470.53 L321.31,470.66 L321.67,470.78 L322.02,470.90 L322.38,471.02 L322.74,471.14 L323.10,471.26 L323.46,471.37 L323.82,471.48 L324.18,471.60 L324.53,471.71 L324.89,471.82 L325.25,471.92 L325.61,472.03 L325.97,472.14 L326.33,472.24 L326.69,472.34 L327.04,472.45 L327.40,472.55 L327.76,472.65 L328.12,472.75 L328.48,472.84 L328.84,472.94 L329.19,473.03 L329.55,473.13 L329.91,473.22 L330.27,473.31 L330.63,473.40 L330.99,473.49 L331.35,473.58 L331.70,473.67 L332.06,473.76 L332.42,473.84 L332.78,473.93 L333.14,474.01 L333.50,474.10 L333.86,474.18 L334.21,474.26 L334.57,474.34 L334.93,474.42 L335.29,474.50 L335.65,474.58 L336.01,474.66 L336.36,474.73 L336.72,474.81 L337.08,474.88 L337.44,474.96 L337.80,475.03 L338.16,475.10 L338.52,475.18 L338.87,475.25 L339.23,475.32 L339.59,475.39 L339.95,475.46 L340.31,475.53 L340.67,475.59 L341.02,475.66 L341.38,475.73 L341.74,475.79 L342.10,475.86 L342.46,475.92 L342.82,475.99 L343.18,476.05 L343.53,476.11 L343.89,476.17 L344.25,476.24 L344.61,476.30 L344.97,476.36 L345.33,476.42 L345.69,476.48 L346.04,476.53 L346.40,476.59 L346.76,476.65 L347.12,476.71 L347.48,476.76 L347.84,476.82 L348.19,476.88 L348.55,476.93 L348.91,476.98 L349.27,477.04 L349.63,477.09 L349.99,477.15 L350.35,477.20 L350.70,477.25 L351.06,477.30 L351.42,477.35 L351.78,477.40 L352.14,477.45 L352.50,477.50 L352.86,477.55 L353.21,477.60 L353.57,477.65 L353.93,477.70 L354.29,477.75 L354.65,477.80 L355.01,477.85 L355.37,477.89 L355.72,477.94 L356.08,477.99 L356.44,478.04 L356.80,478.08 L357.16,478.13 L357.52,478.18 L357.87,478.22 L358.23,478.27 L358.59,478.31 L358.95,478.36 L359.31,478.40 L359.67,478.44 L360.03,478.49 L360.38,478.53 L360.74,478.57 L361.10,478.62 L361.46,478.66 L361.82,478.70 L362.18,478.74 L362.53,478.78 L362.89,478.82 L363.25,478.86 L363.61,478.90 L363.97,478.94 L364.33,478.98 L364.69,479.02 L365.04,479.06 L365.40,479.10 L365.76,479.14 L366.12,479.18 L366.48,479.22 L366.84,479.25 L367.20,479.29 L367.55,479.33 L367.91,479.37 L368.27,479.40 L368.63,479.44 L368.99,479.48 L369.35,479.51 L369.70,479.55 L370.06,479.58 L370.42,479.62 L370.78,479.65 L371.14,479.69 L371.50,479.72 L371.86,479.76 L372.21,479.79 L372.57,479.83 L372.93,479.86 L373.29,479.89 L373.65,479.93 L374.01,479.96 L374.37,479.99 L374.72,480.02 L375.08,480.06 L375.44,480.09 L375.80,480.12 L376.16,480.15 L376.52,480.18 L376.88,480.22 L377.23,480.25 L377.59,480.28 L377.95,480.31 L378.31,480.34 L378.67,480.37 L379.03,480.40 L379.38,480.43 L379.74,480.46 L380.10,480.49 L380.46,480.52 L380.82,480.55 L381.18,480.58 L381.54,480.61 L381.89,480.64 L382.25,480.66 L382.61,480.69 L382.97,480.72 L383.33,480.75 L383.69,480.78 L384.05,480.80 L384.40,480.83 L384.76,480.86 L385.12,480.89 L385.48,480.91 L385.84,480.94 L386.20,480.97 L386.55,481.00 L386.91,481.02 L387.27,481.05 L387.63,481.07 L387.99,481.10 L388.35,481.13 L388.71,481.15 L389.06,481.18 L389.42,481.20 L389.78,481.23 L390.14,481.25 L390.50,481.28 L390.86,481.31 L391.21,481.33 L391.57,481.35 L391.93,481.38 L392.29,481.40 L392.65,481.43 L393.01,481.45 L393.37,481.48 L393.72,481.50 L394.08,481.52 L394.44,481.55 L394.80,481.57" stroke="#ff7f0e"/>
<path d="M108.00,487.45 L108.36,487.43 L108.72,487.41 L109.08,487.39 L109.43,487.37 L109.79,487.35 L110.15,487.33 L110.51,487.31 L110.87,487.29 L111.23,487.27 L111.58,487.25 L111.94,487.23 L112.30,487.21 L112.66,487.19 L113.02,487.17 L113.38,487.16 L113.74,487.14 L114.09,487.13 L114.45,487.12 L114.81,487.11 L115.17,487.10 L115.53,487.09 L115.89,487.08 L116.25,487.08 L116.60,487.07 L116.96,487.06 L117.32,487.06 L117.68,487.06 L118.04,487.06 L118.40,487.06 L118.75,487.05 L119.11,487.05 L119.47,487.05 L119.83,487.05 L120.19,487.05 L120.55,487.05 L120.91,487.05 L121.26,487.05 L121.62,487.05 L121.98,487.05 L122.34,487.05 L122.70,487.05 L123.06,487.05 L123.42,487.05 L123.77,487.05 L124.13,487.05 L124.49,487.05 L124.85,487.05 L125.21,487.05 L125.57,487.04 L125.92,487.04 L126.28,487.04 L126.64,487.04 L127.00,487.04 L127.36,487.04 L127.72,487.04 L128.08,487.04 L128.43,487.04 L128.79,487.04 L129.15,487.04 L129.51,487.04 L129.87,487.04 L130.23,487.04 L130.59,487.04 L130.94,487.04 L131.30,487.04 L131.66,487.04 L132.02,487.04 L132.38,487.04 L132.74,487.04 L133.09,487.04 L133.45,487.04 L133.81,487.04 L134.17,487.04 L134.53,487.03 L134.89,487.03 L135.25,487.03 L135.60,487.03 L135.96,487.03 L136.32,487.03 L136.68,487.03 L137.04,487.03 L137.40,487.03 L137.76,487.03 L138.11,487.03 L138.47,487.03 L138.83,487.03 L139.19,487.03 L139.55,487.03 L139.91,487.03 L140.26,487.03 L140.62,487.03 L140.98,487.03 L141.34,487.02 L141.70,487.02 L142.06,487.02 L142.42,487.02 L142.77,487.02 L143.13,487.02 L143.49,487.02 L143.85,487.02 L144.21,487.02 L144.57,487.02 L144.93,487.02 L145.28,487.02 L145.64,487.02 L146.00,487.02 L146.36,487.02 L146.72,487.01 L147.08,487.01 L147.44,487.01 L147.79,487.01 L148.15,487.01 L148.51,487.01 L148.87,487.01 L149.23,487.01 L149.59,487.01 L149.94,487.01 L150.30,487.01 L150.66,487.01 L151.02,487.01 L151.38,487.00 L151.74,487.00 L152.10,487.00 L152.45,487.00 L152.81,487.00 L153.17,487.00 L153.53,487.00 L153.89,487.00 L154.25,487.00 L154.60,487.00 L154.96,487.00 L155.32,487.00 L155.68,486.99 L156.04,486.99 L156.40,486.99 L156.76,486.99 L157.11,486.99 L157.47,486.99 L157.83,486.99 L158.19,486.99 L158.55,486.99 L158.91,486.98 L159.27,486.98 L159.62,486.98 L159.98,486.98 L160.34,486.98 L160.70,486.98 L161.06,486.98 L161.42,486.98 L161.78,486.98 L162.13,486.97 L162.49,486.97 L162.85,486.97 L163.21,486.97 L163.57,486.97 L163.93,486.97 L164.28,486.97 L164.64,486.96 L165.00,486.96 L165.36,486.96 L165.72,486.96 L166.08,486.96 L166.44,486.96 L166.79,486.96 L167.15,486.95 L167.51,486.95 L167.87,486.95 L168.23,486.95 L168.59,486.95 L168.94,486.95 L169.30,486.94 L169.66,486.94 L170.02,486.94 L170.38,486.94 L170.74,486.94 L171.10,486.94 L171.45,486.93 L171.81,486.93 L172.17,486.93 L172.53,486.93 L172.89,486.93 L173.25,486.92 L173.61,486.92 L173.96,486.92 L174.32,486.92 L174.68,486.92 L175.04,486.91 L175.40,486.91 L175.76,486.91 L176.12,486.91 L176.47,486.90 L176.83,486.90 L177.19,486.90 L177.55,486.90 L177.91,486.89 L178.27,486.89 L178.62,486.89 L178.98,486.89 L179.34,486.88 L179.70,486.88 L180.06,486.88 L180.42,486.88 L180.78,486.87 L181.13,486.87 L181.49,486.87 L181.85,486.86 L182.21,486.86 L182.57,486.86 L182.93,486.85 L183.28,486.85 L183.64,486.85 L184.00,486.84 L184.36,486.84 L184.72,486.84 L185.08,486.83 L185.44,486.83 L185.79,486.82 L186.15,486.82 L186.51,486.82 L186.87,486.81 L187.23,486.81 L187.59,486.80 L187.95,486.80 L188.30,486.80 L188.66,486.79 L189.02,486.79 L189.38,486.78 L189.74,486.78 L190.10,486.77 L190.45,486.77 L190.81,486.76 L191.17,486.76 L191.53,486.75 L191.89,486.75 L192.25,486.74 L192.61,486.73 L192.96,486.73 L193.32,486.72 L193.68,486.72 L194.04,486.71 L194.40,486.70 L194.76,486.70 L195.12,486.69 L195.47,486.68 L195.83,486.68 L196.19,486.67 L196.55,486.66 L196.91,486.65 L197.27,486.65 L197.62,486.64 L197.98,486.63 L198.34,486.62 L198.70,486.61 L199.06,486.60 L199.42,486.59 L199.78,486.58 L200.13,486.58 L200.49,486.57 L200.85,486.56 L201.21,486.55 L201.57,486.53 L201.93,486.52 L202.29,486.51 L202.64,486.50 L203.00,486.49 L203.36,486.48 L203.72,486.46 L204.08,486.45 L204.44,486.44 L204.80,486.42 L205.15,486.41 L205.51,486.40 L205.87,486.38 L206.23,486.37 L206.59,486.35 L206.95,486.33 L207.30,486.32 L207.66,486.30 L208.02,486.28 L208.38,486.26 L208.74,486.25 L209.10,486.23 L209.46,486.21 L209.81,486.18 L210.17,486.16 L210.53,486.14 L210.89,486.12 L211.25,486.09 L211.61,486.07 L211.96,486.04 L212.32,486.02 L212.68,485.99 L213.04,485.96 L213.40,485.93 L213.76,485.90 L214.12,485.87 L214.47,485.84 L214.83,485.81 L215.19,485.77 L215.55,485.73 L215.91,485.70 L216.27,485.66 L216.63,485.62 L216.98,485.57 L217.34,485.53 L217.70,485.48 L218.06,485.44 L218.42,485.39 L218.78,485.33 L219.13,485.28 L219.49,485.22 L219.85,485.17 L220.21,485.10 L220.57,485.04 L220.93,484.97 L221.29,484.90 L221.64,484.83 L222.00,484.75 L222.36,484.67 L222.72,484.59 L223.08,484.50 L223.44,484.40 L223.80,484.31 L224.15,484.20 L224.51,484.09 L224.87,483.98 L225.23,483.86 L225.59,483.73 L225.95,483.60 L226.31,483.46 L226.66,483.31 L227.02,483.15 L227.38,482.98 L227.74,482.81 L228.10,482.62 L228.46,482.42 L228.81,482.21 L229.17,481.98 L229.53,481.75 L229.89,481.49 L230.25,481.22 L230.61,480.93 L230.97,480.62 L231.32,480.29 L231.68,479.93 L232.04,479.55 L232.40,479.14 L232.76,478.71 L233.12,478.23 L233.47,477.72 L233.83,477.18 L234.19,476.58 L234.55,475.94 L234.91,475.25 L235.27,474.50 L235.63,473.68 L235.98,472.79 L236.34,471.83 L236.70,470.78 L237.06,469.63 L237.42,468.38 L237.78,467.02 L238.14,465.53 L238.49,463.90 L238.85,462.12 L239.21,460.17 L239.57,458.04 L239.93,455.72 L240.29,453.19 L240.64,450.45 L241.00,447.47 L241.36,444.26 L241.72,440.82 L242.08,437.15 L242.44,433.28 L242.80,429.24 L243.15,425.08 L243.51,420.86 L243.87,416.66 L244.23,412.58 L244.59,408.73 L244.95,405.21 L245.31,402.13 L245.66,399.57 L246.02,397.59 L246.38,396.19 L246.74,395.36 L247.10,395.02 L247.46,395.00 L247.81,395.26 L248.17,395.98 L248.53,397.26 L248.89,399.12 L249.25,401.55 L249.61,404.51 L249.97,407.91 L250.32,411.67 L250.68,415.67 L251.04,419.80 L251.40,423.98 L251.76,428.12 L252.12,432.15 L252.48,436.02 L252.83,439.70 L253.19,443.16 L253.55,446.39 L253.91,449.40 L254.27,452.18 L254.63,454.74 L254.98,457.10 L255.34,459.26 L255.70,461.24 L256.06,463.06 L256.42,464.72 L256.78,466.24 L257.14,467.64 L257.49,468.92 L257.85,470.09 L258.21,471.17 L258.57,472.16 L258.93,473.07 L259.29,473.91 L259.65,474.68 L260.00,475.39 L260.36,476.05 L260.72,476.67 L261.08,477.23 L261.44,477.76 L261.80,478.24 L262.15,478.70 L262.51,479.12 L262.87,479.52 L263.23,479.88 L263.59,480.23 L263.95,480.55 L264.31,480.85 L264.66,481.13 L265.02,481.40 L265.38,481.64 L265.74,481.88 L266.10,482.10 L266.46,482.31 L266.82,482.50 L267.17,482.69 L267.53,482.86 L267.89,483.03 L268.25,483.18 L268.61,483.33 L268.97,483.47 L269.32,483.60 L269.68,483.73 L270.04,483.85 L270.40,483.96 L270.76,484.07 L271.12,484.17 L271.48,484.27 L271.83,484.36 L272.19,484.45 L272.55,484.54 L272.91,484.62 L273.27,484.70 L273.63,484.77 L273.99,484.84 L274.34,484.91 L274.70,484.98 L275.06,485.04 L275.42,485.10 L275.78,485.16 L276.14,485.21 L276.50,485.26 L276.85,485.31 L277.21,485.36 L277.57,485.41 L277.93,485.46 L278.29,485.50 L278.65,485.54 L279.00,485.58 L279.36,485.62 L279.72,485.66 L280.08,485.69 L280.44,485.73 L280.80,485.76 L281.16,485.79 L281.51,485.82 L281.87,485.86 L282.23,485.88 L282.59,485.91 L282.95,485.94 L283.31,485.97 L283.66,485.99 L284.02,486.02 L284.38,486.04 L284.74,486.06 L285.10,486.09 L285.46,486.11 L285.82,486.13 L286.17,486.15 L286.53,486.17 L286.89,486.19 L287.25,486.21 L287.61,486.22 L287.97,486.24 L288.33,486.26 L288.68,486.28 L289.04,486.29 L289.40,486.31 L289.76,486.32 L290.12,486.34 L290.48,486.35 L290.83,486.37 L291.19,486.38 L291.55,486.39 L291.91,486.41 L292.27,486.42 L292.63,486.43 L292.99,486.44 L293.34,486.45 L293.70,486.47 L294.06,486.48 L294.42,486.49 L294.78,486.50 L295.14,486.51 L295.50,486.52 L295.85,486.53 L296.21,486.54 L296.57,486.55 L296.93,486.56 L297.29,486.56 L297.65,486.57 L298.00,486.58 L298.36,486.59 L298.72,486.60 L299.08,486.61 L299.44,486.61 L299.80,486.62 L300.16,486.63 L300.51,486.64 L300.87,486.64 L301.23,486.65 L301.59,486.66 L301.95,486.66 L302.31,486.67 L302.67,486.68 L303.02,486.68 L303.38,486.69 L303.74,486.69 L304.10,486.70 L304.46,486.70 L304.82,486.71 L305.17,486.72 L305.53,486.72 L305.89,486.73 L306.25,486.73 L306.61,486.74 L306.97,486.74 L307.33,486.75 L307.68,486.75 L308.04,486.76 L308.40,486.76 L308.76,486.76 L309.12,486.77 L309.48,486.77 L309.84,486.78 L310.19,486.78 L310.55,486.79 L310.91,486.79 L311.27,486.79 L311.63,486.80 L311.99,486.80 L312.35,486.80 L312.70,486.81 L313.06,486.81 L313.42,486.81 L313.78,486.82 L314.14,486.82 L314.50,486.82 L314.85,486.83 L315.21,486.83 L315.57,486.83 L315.93,486.84 L316.29,486.84 L316.65,486.84 L317.01,486.85 L317.36,486.85 L317.72,486.85 L318.08,486.85 L318.44,486.86 L318.80,486.86 L319.16,486.86 L319.51,486.87 L319.87,486.87 L320.23,486.87 L320.59,486.87 L320.95,486.88 L321.31,486.88 L321.67,486.88 L322.02,486.88 L322.38,486.88 L322.74,486.89 L323.10,486.89 L323.46,486.89 L323.82,486.89 L324.18,486.90 L324.53,486.90 L324.89,486.90 L325.25,486.90 L325.61,486.90 L325.97,486.91 L326.33,486.91 L326.69,486.91 L327.04,486.91 L327.40,486.91 L327.76,486.91 L328.12,486.92 L328.48,486.92 L328.84,486.92 L329.19,486.92 L329.55,486.92 L329.91,486.93 L330.27,486.93 L330.63,486.93 L330.99,486.93 L331.35,486.93 L331.70,486.93 L332.06,486.93 L332.42,486.94 L332.78,486.94 L333.14,486.94 L333.50,486.94 L333.86,486.94 L334.21,486.94 L334.57,486.94 L334.93,486.95 L335.29,486.95 L335.65,486.95 L336.01,486.95 L336.36,486.95 L336.72,486.95 L337.08,486.95 L337.44,486.96 L337.80,486.96 L338.16,486.96 L338.52,486.96 L338.87,486.96 L339.23,486.96 L339.59,486.96 L339.95,486.96 L340.31,486.96 L340.67,486.97 L341.02,486.97 L341.38,486.97 L341.74,486.97 L342.10,486.97 L342.46,486.97 L342.82,486.97 L343.18,486.97 L343.53,486.97 L343.89,486.97 L344.25,486.98 L344.61,486.98 L344.97,486.98 L345.33,486.98 L345.69,486.98 L346.04,486.98 L346.40,486.98 L346.76,486.98 L347.12,486.98 L347.48,486.98 L347.84,486.98 L348.19,486.99 L348.55,486.99 L348.91,486.99 L349.27,486.99 L349.63,486.99 L349.99,486.99 L350.35,486.99 L350.70,486.99 L351.06,486.99 L351.42,486.99 L351.78,486.99 L352.14,486.99 L352.50,487.00 L352.86,487.00 L353.21,487.00 L353.57,487.00 L353.93,487.00 L354.29,487.00 L354.65,487.00 L355.01,487.00 L355.37,487.00 L355.72,487.00 L356.08,487.00 L356.44,487.00 L356.80,487.00 L357.16,487.00 L357.52,487.00 L357.87,487.01 L358.23,487.01 L358.59,487.01 L358.95,487.01 L359.31,487.01 L359.67,487.01 L360.03,487.01 L360.38,487.01 L360.74,487.01 L361.10,487.01 L361.46,487.01 L361.82,487.01 L362.18,487.01 L362.53,487.01 L362.89,487.01 L363.25,487.01 L363.61,487.01 L363.97,487.02 L364.33,487.02 L364.69,487.02 L365.04,487.02 L365.40,487.02 L365.76,487.02 L366.12,487.02 L366.48,487.02 L366.84,487.02 L367.20,487.02 L367.55,487.02 L367.91,487.02 L368.27,487.02 L368.63,487.02 L368.99,487.02 L369.35,487.02 L369.70,487.02 L370.06,487.02 L370.42,487.02 L370.78,487.02 L371.14,487.02 L371.50,487.03 L371.86,487.03 L372.21,487.03 L372.57,487.03 L372.93,487.03 L373.29,487.03 L373.65,487.03 L374.01,487.03 L374.37,487.03 L374.72,487.03 L375.08,487.03 L375.44,487.03 L375.80,487.03 L376.16,487.03 L376.52,487.03 L376.88,487.03 L377.23,487.03 L377.59,487.03 L377.95,487.03 L378.31,487.03 L378.67,487.03 L379.03,487.03 L379.38,487.03 L379.74,487.03 L380.10,487.03 L380.46,487.03 L380.82,487.03 L381.18,487.04 L381.54,487.04 L381.89,487.04 L382.25,487.04 L382.61,487.04 L382.97,487.04 L383.33,487.04 L383.69,487.04 L384.05,487.04 L384.40,487.04 L384.76,487.04 L385.12,487.04 L385.48,487.04 L385.84,487.04 L386.20,487.04 L386.55,487.04 L386.91,487.04 L387.27,487.04 L387.63,487.04 L387.99,487.04 L388.35,487.04 L388.71,487.04 L389.06,487.04 L389.42,487.04 L389.78,487.04 L390.14,487.04 L390.50,487.04 L390.86,487.04 L391.21,487.04 L391.57,487.04 L391.93,487.04 L392.29,487.04 L392.65,487.04 L393.01,487.04 L393.37,487.05 L393.72,487.05 L394.08,487.05 L394.44,487.05 L394.80,487.05" stroke="#2ca02c"/>
<path d="M108.00,487.45 L108.36,487.44 L108.72,487.43 L109.08,487.42 L109.43,487.40 L109.79,487.39 L110.15,487.38 L110.51,487.37 L110.87,487.36 L111.23,487.35 L111.58,487.34 L111.94,487.33 L112.30,487.32 L112.66,487.31 L113.02,487.30 L113.38,487.29 L113.74,487.28 L114.09,487.27 L114.45,487.27 L114.81,487.26 L115.17,487.26 L115.53,487.25 L115.89,487.25 L116.25,487.24 L116.60,487.24 L116.96,487.24 L117.32,487.24 L117.68,487.24 L118.04,487.24 L118.40,487.23 L118.75,487.23 L119.11,487.23 L119.47,487.23 L119.83,487.23 L120.19,487.23 L120.55,487.23 L120.91,487.23 L121.26,487.23 L121.62,487.23 L121.98,487.23 L122.34,487.23 L122.70,487.23 L123.06,487.23 L123.42,487.23 L123.77,487.23 L124.13,487.23 L124.49,487.23 L124.85,487.23 L125.21,487.23 L125.57,487.23 L125.92,487.23 L126.28,487.23 L126.64,487.23 L127.00,487.23 L127.36,487.23 L127.72,487.23 L128.08,487.23 L128.43,487.23 L128.79,487.23 L129.15,487.23 L129.51,487.23 L129.87,487.23 L130.23,487.23 L130.59,487.23 L130.94,487.23 L131.30,487.23 L131.66,487.23 L132.02,487.23 L132.38,487.23 L132.74,487.23 L133.09,487.23 L133.45,487.23 L133.81,487.23 L134.17,487.23 L134.53,487.23 L134.89,487.23 L135.25,487.23 L135.60,487.23 L135.96,487.23 L136.32,487.23 L136.68,487.23 L137.04,487.23 L137.40,487.23 L137.76,487.23 L138.11,487.23 L138.47,487.23 L138.83,487.23 L139.19,487.23 L139.55,487.23 L139.91,487.23 L140.26,487.23 L140.62,487.23 L140.98,487.23 L141.34,487.23 L141.70,487.23 L142.06,487.23 L142.42,487.23 L142.77,487.23 L143.13,487.23 L143.49,487.23 L143.85,487.23 L144.21,487.23 L144.57,487.23 L144.93,487.23 L145.28,487.23 L145.64,487.23 L146.00,487.23 L146.36,487.23 L146.72,487.23 L147.08,487.23 L147.44,487.23 L147.79,487.23 L148.15,487.23 L148.51,487.23 L148.87,487.23 L149.23,487.23 L149.59,487.23 L149.94,487.23 L150.30,487.23 L150.66,487.23 L151.02,487.23 L151.38,487.23 L151.74,487.23 L152.10,487.23 L152.45,487.23 L152.81,487.23 L153.17,487.23 L153.53,487.23 L153.89,487.23 L154.25,487.23 L154.60,487.23 L154.96,487.23 L155.32,487.23 L155.68,487.23 L156.04,487.23 L156.40,487.23 L156.76,487.23 L157.11,487.23 L157.47,487.23 L157.83,487.23 L158.19,487.23 L158.55,487.23 L158.91,487.23 L159.27,487.23 L159.62,487.23 L159.98,487.23 L160.34,487.23 L160.70,487.23 L161.06,487.23 L161.42,487.23 L161.78,487.23 L162.13,487.23 L162.49,487.23 L162.85,487.23 L163.21,487.23 L163.57,487.23 L163.93,487.23 L164.28,487.23 L164.64,487.23 L165.00,487.23 L165.36,487.23 L165.72,487.23 L166.08,487.23 L166.44,487.23 L166.79,487.22 L167.15,487.22 L167.51,487.22 L167.87,487.22 L168.23,487.22 L168.59,487.22 L168.94,487.22 L169.30,487.22 L169.66,487.22 L170.02,487.22 L170.38,487.22 L170.74,487.22 L171.10,487.22 L171.45,487.22 L171.81,487.22 L172.17,487.22 L172.53,487.22 L172.89,487.22 L173.25,487.22 L173.61,487.22 L173.96,487.22 L174.32,487.22 L174.68,487.22 L175.04,487.22 L175.40,487.22 L175.76,487.22 L176.12,487.22 L176.47,487.22 L176.83,487.22 L177.19,487.22 L177.55,487.22 L177.91,487.22 L178.27,487.22 L178.62,487.22 L178.98,487.22 L179.34,487.22 L179.70,487.22 L180.06,487.22 L180.42,487.22 L180.78,487.22 L181.13,487.22 L181.49,487.22 L181.85,487.22 L182.21,487.22 L182.57,487.22 L182.93,487.22 L183.28,487.22 L183.64,487.22 L184.00,487.22 L184.36,487.22 L184.72,487.22 L185.08,487.22 L185.44,487.22 L185.79,487.22 L186.15,487.22 L186.51,487.22 L186.87,487.22 L187.23,487.22 L187.59,487.22 L187.95,487.22 L188.30,487.21 L188.66,487.21 L189.02,487.21 L189.38,487.21 L189.74,487.21 L190.10,487.21 L190.45,487.21 L190.81,487.21 L191.17,487.21 L191.53,487.21 L191.89,487.21 L192.25,487.21 L192.61,487.21 L192.96,487.21 L193.32,487.21 L193.68,487.21 L194.04,487.21 L194.40,487.21 L194.76,487.21 L195.12,487.21 L195.47,487.21 L195.83,487.21 L196.19,487.21 L196.55,487.21 L196.91,487.21 L197.27,487.21 L197.62,487.21 L197.98,487.21 L198.34,487.20 L198.70,487.20 L199.06,487.20 L199.42,487.20 L199.78,487.20 L200.13,487.20 L200.49,487.20 L200.85,487.20 L201.21,487.20 L201.57,487.20 L201.93,487.20 L202.29,487.20 L202.64,487.20 L203.00,487.20 L203.36,487.20 L203.72,487.20 L204.08,487.20 L204.44,487.19 L204.80,487.19 L205.15,487.19 L205.51,487.19 L205.87,487.19 L206.23,487.19 L206.59,487.19 L206.95,487.19 L207.30,487.19 L207.66,487.19 L208.02,487.19 L208.38,487.19 L208.74,487.18 L209.10,487.18 L209.46,487.18 L209.81,487.18 L210.17,487.18 L210.53,487.18 L210.89,487.18 L211.25,487.18 L211.61,487.18 L211.96,487.17 L212.32,487.17 L212.68,487.17 L213.04,487.17 L213.40,487.17 L213.76,487.17 L214.12,487.17 L214.47,487.16 L214.83,487.16 L215.19,487.16 L215.55,487.16 L215.91,487.16 L216.27,487.15 L216.63,487.15 L216.98,487.15 L217.34,487.15 L217.70,487.15 L218.06,487.14 L218.42,487.14 L218.78,487.14 L219.13,487.14 L219.49,487.13 L219.85,487.13 L220.21,487.13 L220.57,487.13 L220.93,487.12 L221.29,487.12 L221.64,487.12 L222.00,487.11 L222.36,487.11 L222.72,487.10 L223.08,487.10 L223.44,487.10 L223.80,487.09 L224.15,487.09 L224.51,487.08 L224.87,487.08 L225.23,487.07 L225.59,487.07 L225.95,487.06 L226.31,487.06 L226.66,487.05 L227.02,487.04 L227.38,487.04 L227.74,487.03 L228.10,487.02 L228.46,487.01 L228.81,487.00 L229.17,486.99 L229.53,486.99 L229.89,486.98 L230.25,486.96 L230.61,486.95 L230.97,486.94 L231.32,486.93 L231.68,486.92 L232.04,486.90 L232.40,486.89 L232.76,486.87 L233.12,486.85 L233.47,486.83 L233.83,486.81 L234.19,486.79 L234.55,486.77 L234.91,486.75 L235.27,486.72 L235.63,486.69 L235.98,486.66 L236.34,486.63 L236.70,486.59 L237.06,486.55 L237.42,486.51 L237.78,486.47 L238.14,486.42 L238.49,486.36 L238.85,486.30 L239.21,486.24 L239.57,486.17 L239.93,486.09 L240.29,486.01 L240.64,485.91 L241.00,485.81 L241.36,485.69 L241.72,485.56 L242.08,485.42 L242.44,485.26 L242.80,485.09 L243.15,484.89 L243.51,484.67 L243.87,484.43 L244.23,484.16 L244.59,483.86 L244.95,483.53 L245.31,483.17 L245.66,482.78 L246.02,482.35 L246.38,481.90 L246.74,481.42 L247.10,480.94 L247.46,480.46 L247.81,480.00 L248.17,479.59 L248.53,479.23 L248.89,478.96 L249.25,478.77 L249.61,478.67 L249.97,478.64 L250.32,478.67 L250.68,478.77 L251.04,478.96 L251.40,479.23 L251.76,479.59 L252.12,480.00 L252.48,480.46 L252.83,480.94 L253.19,481.42 L253.55,481.90 L253.91,482.35 L254.27,482.78 L254.63,483.17 L254.98,483.53 L255.34,483.86 L255.70,484.16 L256.06,484.43 L256.42,484.67 L256.78,484.89 L257.14,485.09 L257.49,485.26 L257.85,485.42 L258.21,485.56 L258.57,485.69 L258.93,485.81 L259.29,485.91 L259.65,486.01 L260.00,486.09 L260.36,486.17 L260.72,486.24 L261.08,486.30 L261.44,486.36 L261.80,486.42 L262.15,486.47 L262.51,486.51 L262.87,486.55 L263.23,486.59 L263.59,486.63 L263.95,486.66 L264.31,486.69 L264.66,486.72 L265.02,486.75 L265.38,486.77 L265.74,486.79 L266.10,486.81 L266.46,486.83 L266.82,486.85 L267.17,486.87 L267.53,486.89 L267.89,486.90 L268.25,486.92 L268.61,486.93 L268.97,486.94 L269.32,486.95 L269.68,486.96 L270.04,486.98 L270.40,486.99 L270.76,486.99 L271.12,487.00 L271.48,487.01 L271.83,487.02 L272.19,487.03 L272.55,487.04 L272.91,487.04 L273.27,487.05 L273.63,487.06 L273.99,487.06 L274.34,487.07 L274.70,487.07 L275.06,487.08 L275.42,487.08 L275.78,487.09 L276.14,487.09 L276.50,487.10 L276.85,487.10 L277.21,487.10 L277.57,487.11 L277.93,487.11 L278.29,487.12 L278.65,487.12 L279.00,487.12 L279.36,487.13 L279.72,487.13 L280.08,487.13 L280.44,487.13 L280.80,487.14 L281.16,487.14 L281.51,487.14 L281.87,487.14 L282.23,487.15 L282.59,487.15 L282.95,487.15 L283.31,487.15 L283.66,487.15 L284.02,487.16 L284.38,487.16 L284.74,487.16 L285.10,487.16 L285.46,487.16 L285.82,487.17 L286.17,487.17 L286.53,487.17 L286.89,487.17 L287.25,487.17 L287.61,487.17 L287.97,487.17 L288.33,487.18 L288.68,487.18 L289.04,487.18 L289.40,487.18 L289.76,487.18 L290.12,487.18 L290.48,487.18 L290.83,487.18 L291.19,487.18 L291.55,487.19 L291.91,487.19 L292.27,487.19 L292.63,487.19 L292.99,487.19 L293.34,487.19 L293.70,487.19 L294.06,487.19 L294.42,487.19 L294.78,487.19 L295.14,487.19 L295.50,487.19 L295.85,487.20 L296.21,487.20 L296.57,487.20 L296.93,487.20 L297.29,487.20 L297.65,487.20 L298.00,487.20 L298.36,487.20 L298.72,487.20 L299.08,487.20 L299.44,487.20 L299.80,487.20 L300.16,487.20 L300.51,487.20 L300.87,487.20 L301.23,487.20 L301.59,487.20 L301.95,487.21 L302.31,487.21 L302.67,487.21 L303.02,487.21 L303.38,487.21 L303.74,487.21 L304.10,487.21 L304.46,487.21 L304.82,487.21 L305.17,487.21 L305.53,487.21 L305.89,487.21 L306.25,487.21 L306.61,487.21 L306.97,487.21 L307.33,487.21 L307.68,487.21 L308.04,487.21 L308.40,487.21 L308.76,487.21 L309.12,487.21 L309.48,487.21 L309.84,487.21 L310.19,487.21 L310.55,487.21 L310.91,487.21 L311.27,487.21 L311.63,487.21 L311.99,487.22 L312.35,487.22 L312.70,487.22 L313.06,487.22 L313.42,487.22 L313.78,487.22 L314.14,487.22 L314.50,487.22 L314.85,487.22 L315.21,487.22 L315.57,487.22 L315.93,487.22 L316.29,487.22 L316.65,487.22 L317.01,487.22 L317.36,487.22 L317.72,487.22 L318.08,487.22 L318.44,487.22 L318.80,487.22 L319.16,487.22 L319.51,487.22 L319.87,487.22 L320.23,487.22 L320.59,487.22 L320.95,487.22 L321.31,487.22 L321.67,487.22 L322.02,487.22 L322.38,487.22 L322.74,487.22 L323.10,487.22 L323.46,487.22 L323.82,487.22 L324.18,487.22 L324.53,487.22 L324.89,487.22 L325.25,487.22 L325.61,487.22 L325.97,487.22 L326.33,487.22 L326.69,487.22 L327.04,487.22 L327.40,487.22 L327.76,487.22 L328.12,487.22 L328.48,487.22 L328.84,487.22 L329.19,487.22 L329.55,487.22 L329.91,487.22 L330.27,487.22 L330.63,487.22 L330.99,487.22 L331.35,487.22 L331.70,487.22 L332.06,487.22 L332.42,487.22 L332.78,487.22 L333.14,487.22 L333.50,487.23 L333.86,487.23 L334.21,487.23 L334.57,487.23 L334.93,487.23 L335.29,487.23 L335.65,487.23 L336.01,487.23 L336.36,487.23 L336.72,487.23 L337.08,487.23 L337.44,487.23 L337.80,487.23 L338.16,487.23 L338.52,487.23 L338.87,487.23 L339.23,487.23 L339.59,487.23 L339.95,487.23 L340.31,487.23 L340.67,487.23 L341.02,487.23 L341.38,487.23 L341.74,487.23 L342.10,487.23 L342.46,487.23 L342.82,487.23 L343.18,487.23 L343.53,487.23 L343.89,487.23 L344.25,487.23 L344.61,487.23 L344.97,487.23 L345.33,487.23 L345.69,487.23 L346.04,487.23 L346.40,487.23 L346.76,487.23 L347.12,487.23 L347.48,487.23 L347.84,487.23 L348.19,487.23 L348.55,487.23 L348.91,487.23 L349.27,487.23 L349.63,487.23 L349.99,487.23 L350.35,487.23 L350.70,487.23 L351.06,487.23 L351.42,487.23 L351.78,487.23 L352.14,487.23 L352.50,487.23 L352.86,487.23 L353.21,487.23 L353.57,487.23 L353.93,487.23 L354.29,487.23 L354.65,487.23 L355.01,487.23 L355.37,487.23 L355.72,487.23 L356.08,487.23 L356.44,487.23 L356.80,487.23 L357.16,487.23 L357.52,487.23 L357.87,487.23 L358.23,487.23 L358.59,487.23 L358.95,487.23 L359.31,487.23 L359.67,487.23 L360.03,487.23 L360.38,487.23 L360.74,487.23 L361.10,487.23 L361.46,487.23 L361.82,487.23 L362.18,487.23 L362.53,487.23 L362.89,487.23 L363.25,487.23 L363.61,487.23 L363.97,487.23 L364.33,487.23 L364.69,487.23 L365.04,487.23 L365.40,487.23 L365.76,487.23 L366.12,487.23 L366.48,487.23 L366.84,487.23 L367.20,487.23 L367.55,487.23 L367.91,487.23 L368.27,487.23 L368.63,487.23 L368.99,487.23 L369.35,487.23 L369.70,487.23 L370.06,487.23 L370.42,487.23 L370.78,487.23 L371.14,487.23 L371.50,487.23 L371.86,487.23 L372.21,487.23 L372.57,487.23 L372.93,487.23 L373.29,487.23 L373.65,487.23 L374.01,487.23 L374.37,487.23 L374.72,487.23 L375.08,487.23 L375.44,487.23 L375.80,487.23 L376.16,487.23 L376.52,487.23 L376.88,487.23 L377.23,487.23 L377.59,487.23 L377.95,487.23 L378.31,487.23 L378.67,487.23 L379.03,487.23 L379.38,487.23 L379.74,487.23 L380.10,487.23 L380.46,487.23 L380.82,487.23 L381.18,487.23 L381.54,487.23 L381.89,487.23 L382.25,487.23 L382.61,487.23 L382.97,487.23 L383.33,487.23 L383.69,487.23 L384.05,487.23 L384.40,487.23 L384.76,487.23 L385.12,487.23 L385.48,487.23 L385.84,487.23 L386.20,487.23 L386.55,487.23 L386.91,487.23 L387.27,487.23 L387.63,487.23 L387.99,487.23 L388.35,487.23 L388.71,487.23 L389.06,487.23 L389.42,487.23 L389.78,487.23 L390.14,487.23 L390.50,487.23 L390.86,487.23 L391.21,487.23 L391.57,487.23 L391.93,487.23 L392.29,487.23 L392.65,487.23 L393.01,487.23 L393.37,487.23 L393.72,487.23 L394.08,487.23 L394.44,487.23 L394.80,487.23" stroke="#d62728"/>
</g>
<g fill="none" stroke="#000" stroke-width="1.2">
<rect x="108.0" y="40.4" width="286.8" height="189.79999999999998"/>
<rect x="108.0" y="306.5" width="286.8" height="189.7"/>
<path d="M104.1,225.15 H108.0"/>
<path d="M104.1,183.04 H108.0"/>
<path d="M104.1,140.93 H108.0"/>
<path d="M104.1,98.81 H108.0"/>
<path d="M104.1,56.70 H108.0"/>
<path d="M108.00,230.2 V234.1"/>
<path d="M179.70,230.2 V234.1"/>
<path d="M251.40,230.2 V234.1"/>
<path d="M323.10,230.2 V234.1"/>
<path d="M394.80,230.2 V234.1"/>
<path d="M104.1,487.45 H108.0"/>
<path d="M104.1,442.69 H108.0"/>
<path d="M104.1,397.92 H108.0"/>
<path d="M104.1,353.16 H108.0"/>
<path d="M104.1,308.40 H108.0"/>
<path d="M108.00,496.2 V500.09999999999997"/>
<path d="M179.70,496.2 V500.09999999999997"/>
<path d="M251.40,496.2 V500.09999999999997"/>
<path d="M323.10,496.2 V500.09999999999997"/>
<path d="M394.80,496.2 V500.09999999999997"/>
</g>
<g fill="#000">
<text x="100.2" y="231.75" font-size="18.7" text-anchor="end">0.0</text>
<text x="100.2" y="189.64" font-size="18.7" text-anchor="end">0.2</text>
<text x="100.2" y="147.53" font-size="18.7" text-anchor="end">0.4</text>
<text x="100.2" y="105.41" font-size="18.7" text-anchor="end">0.6</text>
<text x="100.2" y="63.30" font-size="18.7" text-anchor="end">0.8</text>
<text x="251.70" y="250.0" font-size="18.7" text-anchor="middle">0</text>
<text x="323.40" y="250.0" font-size="18.7" text-anchor="middle">50</text>
<text x="395.10" y="250.0" font-size="18.7" text-anchor="middle">100</text>
<text x="100.67" y="250.0" font-size="18.7">100</text>
<text x="177.6" y="250.0" font-size="18.7">50</text>
<path d="M88.8,245.6 H99.6 M164.7,245.6 H175.9" stroke="#000" stroke-width="1.1" fill="none"/>
<text x="100.2" y="494.05" font-size="18.7" text-anchor="end">0.00</text>
<text x="100.2" y="449.29" font-size="18.7" text-anchor="end">0.25</text>
<text x="100.2" y="404.52" font-size="18.7" text-anchor="end">0.50</text>
<text x="100.2" y="359.76" font-size="18.7" text-anchor="end">0.75</text>
<text x="100.2" y="315.00" font-size="18.7" text-anchor="end">1.00</text>
<text x="108.00" y="516" font-size="18.7" text-anchor="middle">0</text>
<text x="179.70" y="516" font-size="18.7" text-anchor="middle">50</text>
<text x="251.40" y="516" font-size="18.7" text-anchor="middle">100</text>
<text x="323.10" y="516" font-size="18.7" text-anchor="middle">150</text>
<text x="394.80" y="516" font-size="18.7" text-anchor="middle">200</text>
<text transform="translate(156.2,271.5) scale(0.988,1)" font-size="20.7" text-anchor="start">Detuning</text>
<path transform="translate(237.92,271.7)" d="M6.54,-13.23 L12.08,0.00 L0.00,0.00 Z M5.85,-10.43 L1.27,-1.15 L9.77,-1.15 Z" fill="#000" fill-rule="evenodd"/>
<g style="word-spacing:0.6px"><text transform="translate(255.3,271.5) scale(0.988,1)" font-size="20.7" text-anchor="start">(units of</text></g>
<path transform="translate(330.3,271.7)" d="M0.00,-6.00 C0.23,-8.08 1.38,-10.00 2.92,-10.15 C4.77,-10.23 5.62,-6.92 5.85,-1.92 L9.23,-10.00 L10.15,-10.00 L6.38,-1.15 C6.15,0.77 5.23,3.08 4.15,4.77 L2.46,4.77 C3.15,2.69 4.00,0.77 4.46,-1.15 C4.31,-5.38 3.69,-8.31 2.62,-8.46 C1.54,-8.54 0.77,-7.31 0.46,-5.85 Z" fill="#000"/>
<text transform="translate(339.5,271.5) scale(0.988,1)" font-size="20.7" text-anchor="start">)</text>
<text transform="translate(151.5,538.2) scale(0.988,1)" font-size="20.7" text-anchor="start">Frequency</text>
<path transform="translate(244.4,537.85)" d="M-0.15,-9.92 L0.08,-10.85 L2.85,-10.85 L4.54,-2.46 C6.54,-4.38 8.23,-7.46 8.69,-10.54 L9.77,-10.69 C9.46,-7.08 7.46,-3.23 4.08,0.23 L3.00,0.23 L0.85,-9.92 Z" fill="#000"/>
<g style="word-spacing:0.6px"><text transform="translate(260.3,538.2) scale(0.988,1)" font-size="20.7" text-anchor="start">(units of</text></g>
<path transform="translate(335.2,537.1)" d="M0.00,-6.00 C0.23,-8.08 1.38,-10.00 2.92,-10.15 C4.77,-10.23 5.62,-6.92 5.85,-1.92 L9.23,-10.00 L10.15,-10.00 L6.38,-1.15 C6.15,0.77 5.23,3.08 4.15,4.77 L2.46,4.77 C3.15,2.69 4.00,0.77 4.46,-1.15 C4.31,-5.38 3.69,-8.31 2.62,-8.46 C1.54,-8.54 0.77,-7.31 0.46,-5.85 Z" fill="#000"/>
<text transform="translate(344.5,538.2) scale(0.988,1)" font-size="20.7" text-anchor="start">)</text>
<text transform="translate(54.7,135) rotate(-90) scale(0.988,1)" font-size="20.7" text-anchor="middle">Reﬂection Intensity (arb. units)</text>
<path d="M38.8,469.2 H58.8 M38.8,436.1 H58.8" stroke="#000" stroke-width="1" fill="none"/>
<g transform="translate(54.2,467) rotate(-90)" fill="none" stroke="#000" stroke-linecap="butt"><path d="M0,-0.65 H9.8" stroke-width="1.2"/><path d="M14.5,-13.35 H4.2 C2.2,-13.35 0.9,-12.6 0.5,-10.9" stroke-width="1.2"/><path d="M4.9,-1 C6.5,-4 7.6,-9 9.6,-13" stroke-width="1.55"/></g>
<text transform="translate(57.1,454.4) rotate(-90) scale(0.988,1)" font-size="15.2" text-anchor="start">bc</text>
<text transform="translate(46.1,433.7) rotate(-90) scale(0.988,1)" font-size="15.2" text-anchor="start">2</text>
<text transform="translate(54.2,420.0) rotate(-90) scale(0.988,1)" font-size="20.7" text-anchor="start">(arb. units)</text>
<text x="7.6" y="49.5" font-size="20.45">(a)</text>
<text x="7.7" y="315.4" font-size="20.45">(b)</text>
</g>
<rect x="312.8" y="75.3" width="74" height="98" rx="2.6" fill="#fff" fill-opacity="0.8" stroke="#d2d2d2" stroke-width="1.1"/>
<path d="M318.3,87.35 H353.4" stroke="#1f77b4" stroke-width="2.3" fill="none"/>
<text transform="translate(366.4,93.15) scale(0.9,1)" font-size="18.0" font-style="italic">θ</text>
<text x="374.6" y="95.55" font-size="13">1</text>
<path d="M318.3,110.70 H353.4" stroke="#ff7f0e" stroke-width="2.3" fill="none"/>
<text transform="translate(366.4,116.50) scale(0.9,1)" font-size="18.0" font-style="italic">θ</text>
<text x="374.6" y="118.90" font-size="13">2</text>
<path d="M318.3,134.05 H353.4" stroke="#2ca02c" stroke-width="2.3" fill="none"/>
<text transform="translate(366.4,139.85) scale(0.9,1)" font-size="18.0" font-style="italic">θ</text>
<text x="374.6" y="142.25" font-size="13">3</text>
<path d="M318.3,157.40 H353.4" stroke="#d62728" stroke-width="2.3" fill="none"/>
<text transform="translate(366.4,163.20) scale(0.9,1)" font-size="18.0" font-style="italic">θ</text>
<text x="374.6" y="165.60" font-size="13">4</text>
<rect x="312.8" y="314.35" width="74" height="98" rx="2.6" fill="#fff" fill-opacity="0.8" stroke="#d2d2d2" stroke-width="1.1"/>
<path d="M318.3,326.40 H353.4" stroke="#1f77b4" stroke-width="2.3" fill="none"/>
<text transform="translate(366.4,332.20) scale(0.9,1)" font-size="18.0" font-style="italic">θ</text>
<text x="374.6" y="334.60" font-size="13">1</text>
<path d="M318.3,349.75 H353.4" stroke="#ff7f0e" stroke-width="2.3" fill="none"/>
<text transform="translate(366.4,355.55) scale(0.9,1)" font-size="18.0" font-style="italic">θ</text>
<text x="374.6" y="357.95" font-size="13">2</text>
<path d="M318.3,373.10 H353.4" stroke="#2ca02c" stroke-width="2.3" fill="none"/>
<text transform="translate(366.4,378.90) scale(0.9,1)" font-size="18.0" font-style="italic">θ</text>
<text x="374.6" y="381.30" font-size="13">3</text>
<path d="M318.3,396.45 H353.4" stroke="#d62728" stroke-width="2.3" fill="none"/>
<text transform="translate(366.4,402.25) scale(0.9,1)" font-size="18.0" font-style="italic">θ</text>
<text x="374.6" y="404.65" font-size="13">4</text>
</svg></body></html>
